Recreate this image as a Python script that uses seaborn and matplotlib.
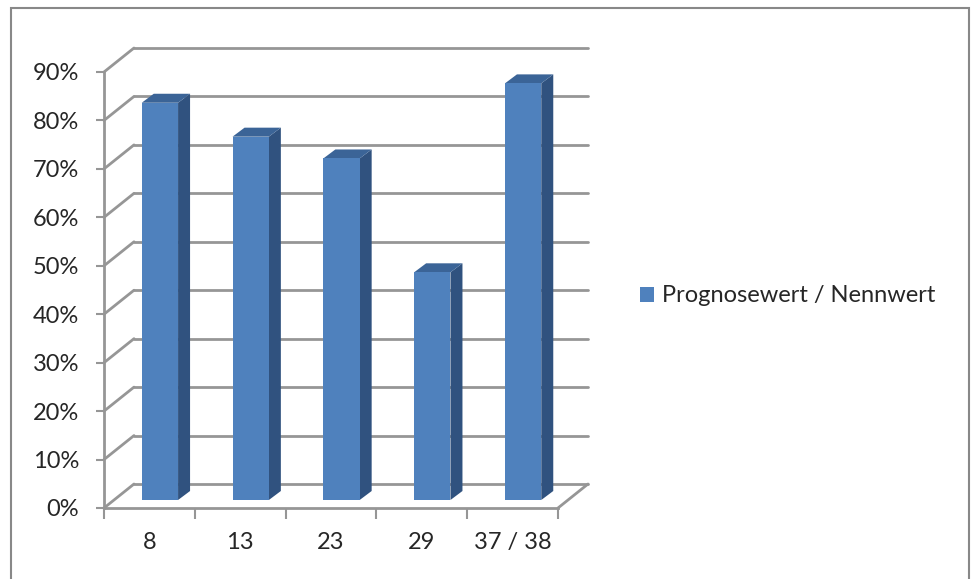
import numpy as np
import pandas as pd
import seaborn as sns
import matplotlib
matplotlib.use("Agg")
import matplotlib.pyplot as plt
from matplotlib.patches import Polygon, Rectangle, Patch
from matplotlib.lines import Line2D

# ---- data ----
categories = ["8", "13", "23", "29", "37 / 38"]
values = [0.82, 0.75, 0.705, 0.47, 0.86]
series_name = "Prognosewert / Nennwert"
y_ticks = [0.0, 0.1, 0.2, 0.3, 0.4, 0.5, 0.6, 0.7, 0.8, 0.9]
y_tick_labels = ["0%", "10%", "20%", "30%", "40%", "50%", "60%", "70%", "80%", "90%"]

# ---- style ----
sns.set_style("white")
plt.rcParams["font.family"] = ["Lato", "DejaVu Sans"]
FS = 17
FRONT = "#4F81BD"
SIDE = "#30527F"
TOP = "#3B6497"
GRID = "#969696"

W, H = 971, 579
fig = plt.figure(figsize=(W / 100, H / 100), dpi=100)
ax_l, ax_b, ax_w, ax_h = 104, 71, 454, 436
ax = fig.add_axes([ax_l / W, ax_b / H, ax_w / W, ax_h / H])

df = pd.DataFrame({"cat": categories, "val": values})
sns.barplot(data=df, x="cat", y="val", color=FRONT, saturation=1, width=0.4,
            ax=ax, zorder=3, edgecolor="none")

ax.set_xlim(-0.5, len(categories) - 0.5)
ax.set_ylim(0, y_ticks[-1])

# pixel -> data conversion
px_x = (len(categories)) / ax_w
px_y = y_ticks[-1] / ax_h

# depth geometry (pixels)
wall_dx, wall_dy = 30 * px_x, 24 * px_y     # front plane -> back wall
bar_fx, bar_fy = 10.5 * px_x, 8 * px_y      # front plane -> bar front face
bar_dx, bar_dy = 12 * px_x, 9 * px_y        # bar depth

x0, x1 = ax.get_xlim()

# back wall gridlines + left wall diagonals
for v in y_ticks:
    ax.add_line(Line2D([x0 + wall_dx, x1 + wall_dx], [v + wall_dy, v + wall_dy],
                       color=GRID, lw=2, zorder=1, clip_on=False))
    ax.add_line(Line2D([x0, x0 + wall_dx], [v, v + wall_dy],
                       color=GRID, lw=2, zorder=1, clip_on=False))
# floor right edge
ax.add_line(Line2D([x1, x1 + wall_dx], [0, wall_dy], color=GRID, lw=2,
                   zorder=1, clip_on=False))

# 3D bars
for p in ax.patches:
    p.set_x(p.get_x() + bar_fx)
    p.set_y(bar_fy)
    p.set_clip_on(False)
    bx, bw, bh = p.get_x(), p.get_width(), p.get_height()
    by = p.get_y()
    side = Polygon([(bx + bw, by), (bx + bw, by + bh),
                    (bx + bw + bar_dx, by + bh + bar_dy), (bx + bw + bar_dx, by + bar_dy)],
                   closed=True, facecolor=SIDE, edgecolor="none", zorder=2.9, clip_on=False)
    top = Polygon([(bx, by + bh), (bx + bw, by + bh),
                   (bx + bw + bar_dx, by + bh + bar_dy), (bx + bar_dx, by + bh + bar_dy)],
                  closed=True, facecolor=TOP, edgecolor="none", zorder=2.9, clip_on=False)
    ax.add_patch(side)
    ax.add_patch(top)

# axes styling
for s in ["top", "right"]:
    ax.spines[s].set_visible(False)
for s in ["left", "bottom"]:
    ax.spines[s].set_color(GRID)
    ax.spines[s].set_linewidth(2)

ax.set_yticks(y_ticks)
ax.set_yticklabels(y_tick_labels)
ax.set_xticks(range(len(categories)))
ax.set_xticklabels(categories)
ax.set_xticks(np.arange(-0.5, len(categories), 1.0), minor=True)
ax.tick_params(axis="y", which="major", length=6, width=1.5, color=GRID,
               direction="out", pad=12, labelsize=FS, left=True)
ax.tick_params(axis="x", which="major", length=0, pad=17, labelsize=FS)
ax.tick_params(axis="x", which="minor", length=8, width=1.5, color=GRID,
               direction="out", bottom=True)
ax.set_xlabel("")
ax.set_ylabel("")
ax.grid(False)

# legend
handle = Patch(facecolor=FRONT, edgecolor="none", label=series_name)
fig.legend(handles=[handle], loc="center left",
           bbox_to_anchor=(640 / W, 1 - 296 / H), frameon=False, fontsize=FS,
           handlelength=0.6, handleheight=0.6, handletextpad=0.35, borderpad=0,
           borderaxespad=0)

# outer frame
fig.patches.append(Rectangle((11 / W, -0.05), (969 - 11) / W, 1.05 - 8 / H,
                             transform=fig.transFigure, fill=False,
                             edgecolor="#888888", lw=1.5, zorder=0))

fig.savefig("out.png", dpi=100)
